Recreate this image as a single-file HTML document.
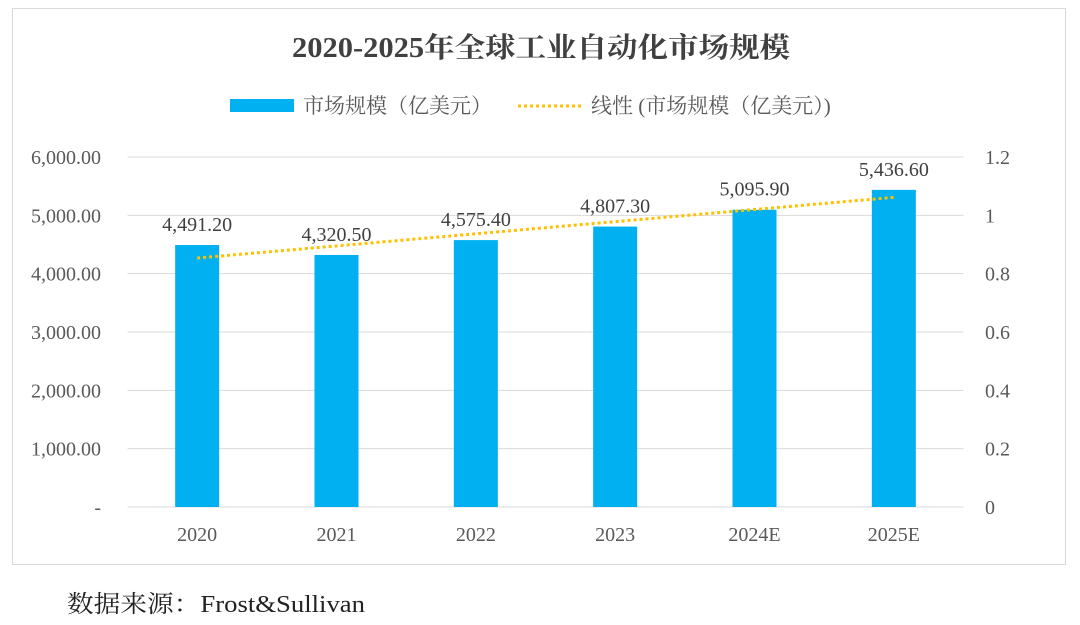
<!DOCTYPE html>
<html>
<head>
<meta charset="utf-8">
<style>
  html, body { margin: 0; padding: 0; background: #fff; }
  body { width: 1080px; height: 620px; overflow: hidden; font-family: "Liberation Serif", "Noto Serif CJK SC", serif; }
  svg text { font-family: "Liberation Serif", "Noto Serif CJK SC", serif; }
</style>
</head>
<body>
<svg id="chart" width="1080" height="620" xmlns="http://www.w3.org/2000/svg">
  <rect x="12.5" y="8.5" width="1053" height="556" fill="#fff" stroke="#d9d9d9"/>
  <text x="292" y="57" font-size="28" font-weight="bold" fill="#404040" textLength="498" lengthAdjust="spacingAndGlyphs">2020-2025年全球工业自动化市场规模</text>
  <g>
    <rect x="230" y="99" width="64" height="13" fill="#00b0f0"/>
    <text x="303" y="113" font-size="21" fill="#595959">市场规模（亿美元）</text>
    <line x1="518" y1="106" x2="582" y2="106" stroke="#ffc000" stroke-width="3" stroke-dasharray="3,3"/>
    <text x="591" y="113" font-size="21" fill="#595959">线性 (市场规模（亿美元）)</text>
  </g>
  <g id="grid"></g>
  <g id="bars"></g>
  <g id="labels"></g>
  <g id="axes"></g>
  <text x="67" y="612" font-size="24" fill="#222" textLength="298" lengthAdjust="spacingAndGlyphs">数据来源：Frost&amp;Sullivan</text>
</svg>
<script>
const categories = ["2020", "2021", "2022", "2023", "2024E", "2025E"];
const values = [4491.2, 4320.5, 4575.4, 4807.3, 5095.9, 5436.6];
const valueLabels = ["4,491.20", "4,320.50", "4,575.40", "4,807.30", "5,095.90", "5,436.60"];
const leftTicks = [0, 1000, 2000, 3000, 4000, 5000, 6000];
const leftTickLabels = ["-", "1,000.00", "2,000.00", "3,000.00", "4,000.00", "5,000.00", "6,000.00"];
const rightTickLabels = ["0", "0.2", "0.4", "0.6", "0.8", "1", "1.2"];

const NS = "http://www.w3.org/2000/svg";
const plotL = 127.5, plotR = 963.5, plotT = 157, plotB = 507;
const yMax = 6000;
function y(v) { return plotB - (v / yMax) * (plotB - plotT); }
const band = (plotR - plotL) / categories.length;
function xc(i) { return plotL + band * (i + 0.5); }
function mk(tag, attrs, parent) {
  const e = document.createElementNS(NS, tag);
  for (const k in attrs) e.setAttribute(k, attrs[k]);
  parent.appendChild(e);
  return e;
}
const grid = document.getElementById('grid');
const bars = document.getElementById('bars');
const labels = document.getElementById('labels');
const axes = document.getElementById('axes');

leftTicks.forEach((t, i) => {
  const gy = y(t);
  const ln = mk('line', {x1: plotL, x2: plotR, y1: gy, y2: gy, stroke: '#d9d9d9', 'stroke-width': 1}, grid);
  
  
  const tl = mk('text', {x: 101, y: gy + 7, 'text-anchor': 'end', 'font-size': 20, fill: '#595959'}, axes);
  tl.textContent = leftTickLabels[i];
  
  
  const tr = mk('text', {x: 985, y: gy + 7, 'text-anchor': 'start', 'font-size': 20, fill: '#595959'}, axes);
  tr.textContent = rightTickLabels[i];
  
  
});

const bw = 44;
values.forEach((v, i) => {
  const r = mk('rect', {x: xc(i) - bw / 2, y: y(v), width: bw, height: plotB - y(v), fill: '#00b0f0'}, bars);
  
  
  const t = mk('text', {x: xc(i), y: y(v) - 14, 'text-anchor': 'middle', 'font-size': 20, fill: '#404040'}, labels);
  t.textContent = valueLabels[i];
  
  
  const c = mk('text', {x: xc(i), y: 541, 'text-anchor': 'middle', 'font-size': 20, fill: '#595959'}, axes);
  c.textContent = categories[i];
  
  
});

const n = values.length;
const mx = (n - 1) / 2;
const my = values.reduce((a, b) => a + b, 0) / n;
let sxy = 0, sxx = 0;
values.forEach((v, i) => { sxy += (i - mx) * (v - my); sxx += (i - mx) * (i - mx); });
const slope = sxy / sxx;
const fit = i => my + slope * (i - mx);
const tl = mk('line', {x1: xc(0), y1: y(fit(0)), x2: xc(n - 1), y2: y(fit(n - 1)), stroke: '#ffc000', 'stroke-width': 3, 'stroke-dasharray': '3,3'}, labels);


</script>
</body>
</html>
